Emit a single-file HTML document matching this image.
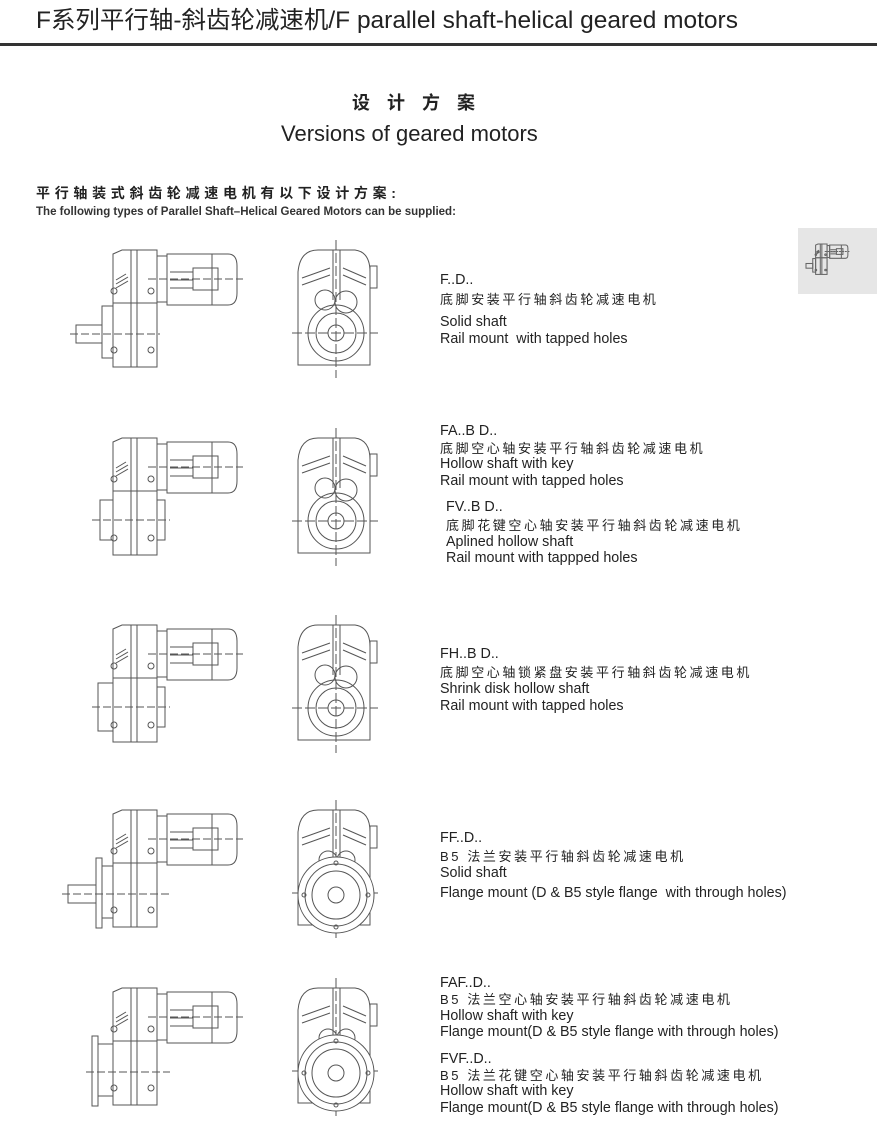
<!DOCTYPE html>
<html><head><meta charset="utf-8"><style>
body{margin:0;width:877px;height:1126px;background:#fff;position:relative;overflow:hidden;font-family:"Liberation Sans","Noto Sans CJK SC",sans-serif;color:#222}
.t{position:absolute;white-space:nowrap;font-size:14.3px;line-height:16px}
.c{letter-spacing:2.6px;font-size:13px}
svg{position:absolute;left:0;top:0}
</style></head><body>
<div class="t" style="left:36px;top:6px;font-size:24px;line-height:30px;color:#222;transform:scaleX(1.02);transform-origin:left">F系列平行轴-斜齿轮减速机/F parallel shaft-helical geared motors</div>
<div style="position:absolute;left:0;top:43px;width:877px;height:3px;background:#333"></div>
<div class="t" style="left:352px;top:92px;font-size:18px;line-height:22px;letter-spacing:6px;font-weight:bold">设 计 方 案</div>
<div class="t" style="left:281px;top:121px;font-size:22px;line-height:26px">Versions of geared motors</div>
<div class="t" style="left:36px;top:185px;font-size:14px;font-weight:bold;letter-spacing:4.7px">平行轴装式斜齿轮减速电机有以下设计方案:</div>
<div class="t" style="left:36px;top:204px;font-size:12px;line-height:14px;font-weight:bold;color:#333;transform:scaleX(0.96);transform-origin:left">The following types of Parallel Shaft–Helical Geared Motors can be supplied:</div>
<div style="position:absolute;left:798px;top:228px;width:79px;height:66px;background:#e6e6e6"></div>

<div class="t" style="left:440px;top:272px">F..D..</div>
<div class="t c" style="left:440px;top:292px">底脚安装平行轴斜齿轮减速电机</div>
<div class="t" style="left:440px;top:314px">Solid shaft</div>
<div class="t" style="left:440px;top:331px">Rail mount &nbsp;with tapped holes</div>

<div class="t" style="left:440px;top:423px">FA..B D..</div>
<div class="t c" style="left:440px;top:441px">底脚空心轴安装平行轴斜齿轮减速电机</div>
<div class="t" style="left:440px;top:456px">Hollow shaft with key</div>
<div class="t" style="left:440px;top:473px">Rail mount with tapped holes</div>
<div class="t" style="left:446px;top:499px">FV..B D..</div>
<div class="t c" style="left:446px;top:518px">底脚花键空心轴安装平行轴斜齿轮减速电机</div>
<div class="t" style="left:446px;top:534px">Aplined hollow shaft</div>
<div class="t" style="left:446px;top:550px">Rail mount with tappped holes</div>

<div class="t" style="left:440px;top:646px">FH..B D..</div>
<div class="t c" style="left:440px;top:665px">底脚空心轴锁紧盘安装平行轴斜齿轮减速电机</div>
<div class="t" style="left:440px;top:681px">Shrink disk hollow shaft</div>
<div class="t" style="left:440px;top:698px">Rail mount with tapped holes</div>

<div class="t" style="left:440px;top:830px">FF..D..</div>
<div class="t c" style="left:440px;top:849px">B5 法兰安装平行轴斜齿轮减速电机</div>
<div class="t" style="left:440px;top:865px">Solid shaft</div>
<div class="t" style="left:440px;top:885px">Flange mount (D &amp; B5 style flange &nbsp;with through holes)</div>

<div class="t" style="left:440px;top:975px">FAF..D..</div>
<div class="t c" style="left:440px;top:992px">B5 法兰空心轴安装平行轴斜齿轮减速电机</div>
<div class="t" style="left:440px;top:1008px">Hollow shaft with key</div>
<div class="t" style="left:440px;top:1024px">Flange mount(D &amp; B5 style flange with through holes)</div>
<div class="t" style="left:440px;top:1051px">FVF..D..</div>
<div class="t c" style="left:440px;top:1068px">B5 法兰花键空心轴安装平行轴斜齿轮减速电机</div>
<div class="t" style="left:440px;top:1083px">Hollow shaft with key</div>
<div class="t" style="left:440px;top:1100px">Flange mount(D &amp; B5 style flange with through holes)</div>

<svg width="877" height="1126" viewBox="0 0 877 1126" fill="none" stroke="#555" stroke-width="1">
<defs>
<g id="side">
  <path d="M113 254 L122 250 L157 250 L157 303 L113 303 Z"/>
  <rect x="113" y="303" width="44" height="64"/>
  <line x1="131" y1="250" x2="131" y2="367"/><line x1="137" y1="250" x2="137" y2="367"/>
  <path d="M116 280 L126 274 M116 284 L128 277 M116 288 L128 281"/>
  <circle cx="114" cy="291" r="3"/><circle cx="151" cy="291" r="3"/>
  <circle cx="114" cy="350" r="3"/><circle cx="151" cy="350" r="3"/>
  <rect x="157" y="256" width="10" height="46"/>
  <path d="M167 254 L228 254 Q237 254 237 266 L237 293 Q237 305 228 305 L167 305 Z"/>
  <line x1="212" y1="254" x2="212" y2="305"/>
  <rect x="193" y="268" width="25" height="22"/>
  <line x1="170" y1="272" x2="193" y2="272"/><line x1="170" y1="280" x2="193" y2="280"/><line x1="170" y1="288" x2="193" y2="288"/>
  <line x1="148" y1="279" x2="243" y2="279" stroke-dasharray="8 3"/>
  <path d="M157 310 L157 355"/>
</g>
<g id="front">
  <path d="M298 272 Q300 250 318 250 L355 250 Q370 252 370 272 L370 365 L298 365 Z"/>
  <line x1="333" y1="250" x2="333" y2="300"/><line x1="340" y1="250" x2="340" y2="300"/>
  <path d="M302 278 L330 268 M343 268 L366 278"/>
  <path d="M302 285 L330 275 M343 275 L366 285"/>
  <rect x="370" y="266" width="7" height="22"/>
  <line x1="336" y1="240" x2="336" y2="378" stroke-dasharray="10 3"/>
  <line x1="292" y1="333" x2="378" y2="333" stroke-dasharray="10 3"/>
</g>
<g id="frontA">
  <circle cx="325" cy="300" r="10"/><circle cx="346" cy="302" r="11"/>
  <circle cx="336" cy="333" r="28"/><circle cx="336" cy="333" r="20"/><circle cx="336" cy="333" r="8"/>
</g>
<g id="frontF">
  <circle cx="328" cy="300" r="9"/><circle cx="346" cy="300" r="9"/>
  <circle cx="336" cy="335" r="38" fill="#fff"/><circle cx="336" cy="335" r="31"/><circle cx="336" cy="335" r="24"/><circle cx="336" cy="335" r="8"/>
  <circle cx="336" cy="303" r="2"/><circle cx="336" cy="367" r="2"/><circle cx="304" cy="335" r="2"/><circle cx="368" cy="335" r="2"/>
</g>
</defs>
<use href="#side"/><use href="#front"/><use href="#frontA"/>
<rect x="102" y="306" width="11" height="52"/><rect x="76" y="325" width="26" height="18"/>
<line x1="70" y1="334" x2="160" y2="334" stroke-dasharray="8 3"/>
<g transform="translate(0,188)"><use href="#side"/><use href="#front"/><use href="#frontA"/>
<rect x="100" y="312" width="13" height="40"/><rect x="157" y="312" width="8" height="40"/>
<line x1="92" y1="332" x2="170" y2="332" stroke-dasharray="8 3"/></g>
<g transform="translate(0,375)"><use href="#side"/><use href="#front"/><use href="#frontA"/>
<rect x="98" y="308" width="15" height="48"/><rect x="157" y="312" width="8" height="40"/>
<line x1="92" y1="332" x2="170" y2="332" stroke-dasharray="8 3"/></g>
<g transform="translate(0,560)"><use href="#side"/><use href="#front"/><use href="#frontF"/>
<rect x="96" y="298" width="6" height="70"/><rect x="102" y="306" width="11" height="52"/><rect x="68" y="325" width="28" height="18"/>
<line x1="62" y1="334" x2="170" y2="334" stroke-dasharray="8 3"/></g>
<g transform="translate(0,738)"><use href="#side"/><use href="#front"/><use href="#frontF"/>
<rect x="92" y="298" width="6" height="70"/><rect x="98" y="306" width="15" height="52"/>
<line x1="86" y1="334" x2="170" y2="334" stroke-dasharray="8 3"/></g>
<g transform="translate(806,244) scale(0.26) translate(-76,-250)" stroke="#666" stroke-width="4">
<use href="#side"/><rect x="102" y="306" width="11" height="52"/><rect x="76" y="325" width="26" height="18"/></g>
</svg>
</body></html>
